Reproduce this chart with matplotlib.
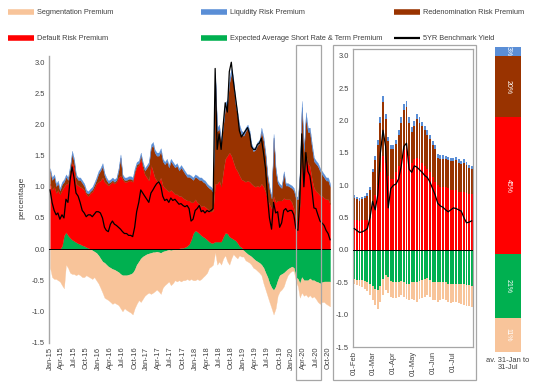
import numpy as np
import pandas as pd
import matplotlib
matplotlib.use("Agg")
import matplotlib.pyplot as plt
import matplotlib.dates as mdates
from matplotlib.lines import Line2D
from matplotlib.patches import Rectangle

plt.rcParams["font.family"] = ["Liberation Sans", "DejaVu Sans"]

C_SEG = "#F8C49A"
C_LIQ = "#5A8ED6"
C_RED = "#993300"
C_DEF = "#FF0000"
C_EXP = "#00B050"
C_TXT = "#404040"
C_FRAME = "#A6A6A6"

# ---- main panel, read on the 1st and 16th of each month, Jan-15 .. Oct-20
main_dates = pd.to_datetime(
    [f"{y}-{m:02d}-{d:02d}" for y in range(2015, 2021) for m in range(1, 13) for d in (1, 16)][:140]
)

default = [
    1.05, 0.95, 1.00, 0.90, 0.95, 0.88, 0.90, 0.78, 0.78, 0.83, 1.02, 1.25, 1.17, 0.94, 0.93, 0.92, 0.92, 0.90, 0.85, 0.83, 0.90, 0.92, 0.98, 1.05,
    1.08, 1.10, 1.15, 1.08, 1.05, 1.02, 1.05, 1.08, 1.05, 1.08, 1.15, 1.18, 1.12, 1.08, 1.08, 1.10, 1.10, 1.08, 1.22, 1.32, 1.35, 1.45, 1.30, 1.20,
    1.15, 1.10, 1.35, 1.25, 1.15, 1.10, 1.08, 1.15, 1.02, 0.98, 0.95, 0.92, 0.95, 0.92, 0.88, 0.88, 0.84, 0.83, 0.80, 0.77, 0.73, 0.70, 0.60, 0.50,
    0.50, 0.47, 0.47, 0.46, 0.50, 0.50, 0.50, 0.50, 0.50, 0.52, 0.93, 0.93, 0.98, 0.88, 1.05, 1.19, 1.25, 1.35, 1.32, 1.24, 1.16, 1.15, 1.13, 1.09,
    1.10, 1.08, 1.10, 1.08, 1.05, 1.02, 1.00, 1.02, 1.00, 1.05, 1.00, 0.92, 0.80, 0.72, 0.65, 0.85, 0.75, 0.78, 0.78, 0.78, 0.82, 0.80, 0.80, 0.80,
    0.75, 0.65, 0.46, 0.46, 0.70, 1.45, 1.10, 1.52, 1.38, 1.33, 1.12, 0.98, 0.93, 0.90, 0.86, 0.85, 0.82, 0.80, 0.80, 0.72,
]
redenom = [
    0.21, 0.16, 0.16, 0.11, 0.11, 0.06, 0.09, 0.08, 0.11, 0.06, 0.11, 0.13, 0.10, 0.11, 0.09, 0.11, 0.08, 0.06, 0.03, 0.04, 0.03, 0.04, 0.05, 0.06,
    0.13, 0.16, 0.18, 0.10, 0.06, 0.04, 0.03, 0.03, 0.03, 0.03, 0.11, 0.29, 0.04, 0.03, 0.03, 0.03, 0.03, 0.03, 0.04, 0.04, 0.03, 0.06, 0.06, 0.06,
    0.16, 0.26, 0.28, 0.42, 0.40, 0.40, 0.42, 0.42, 0.39, 0.38, 0.46, 0.39, 0.46, 0.44, 0.43, 0.46, 0.41, 0.46, 0.44, 0.41, 0.38, 0.38, 0.39, 0.36,
    0.36, 0.39, 0.39, 0.43, 0.38, 0.38, 0.36, 0.36, 0.36, 0.29, 1.73, 0.84, 0.84, 0.69, 0.74, 0.83, 0.83, 1.12, 1.32, 1.27, 1.03, 0.88, 0.76, 0.72,
    0.72, 0.81, 0.84, 0.76, 0.60, 0.55, 0.60, 0.65, 0.70, 0.84, 0.74, 0.58, 0.36, 0.24, 0.16, 0.94, 0.50, 0.28, 0.23, 0.20, 0.39, 0.22, 0.22, 0.20,
    0.23, 0.29, 0.35, 0.34, 0.50, 0.83, 0.46, 0.59, 0.50, 0.55, 0.50, 0.43, 0.44, 0.43, 0.39, 0.35, 0.33, 0.30, 0.30, 0.28,
]
liquidity = [
    0.04, 0.04, 0.04, 0.04, 0.04, 0.04, 0.04, 0.04, 0.04, 0.04, 0.04, 0.05, 0.05, 0.04, 0.04, 0.04, 0.04, 0.04, 0.04, 0.04, 0.04, 0.04, 0.04, 0.04,
    0.04, 0.04, 0.05, 0.04, 0.04, 0.04, 0.04, 0.04, 0.04, 0.04, 0.04, 0.05, 0.04, 0.04, 0.04, 0.04, 0.04, 0.04, 0.04, 0.04, 0.04, 0.04, 0.04, 0.04,
    0.04, 0.04, 0.05, 0.05, 0.05, 0.05, 0.05, 0.05, 0.04, 0.04, 0.04, 0.04, 0.04, 0.04, 0.04, 0.04, 0.04, 0.04, 0.04, 0.04, 0.04, 0.04, 0.04, 0.04,
    0.04, 0.04, 0.04, 0.04, 0.04, 0.04, 0.04, 0.04, 0.04, 0.04, 0.07, 0.06, 0.06, 0.06, 0.06, 0.07, 0.07, 0.08, 0.08, 0.08, 0.07, 0.07, 0.06, 0.06,
    0.06, 0.06, 0.06, 0.06, 0.05, 0.05, 0.05, 0.05, 0.05, 0.06, 0.06, 0.05, 0.04, 0.04, 0.04, 0.06, 0.05, 0.04, 0.04, 0.04, 0.04, 0.04, 0.04, 0.04,
    0.04, 0.04, 0.04, 0.04, 0.05, 0.10, 0.06, 0.09, 0.07, 0.07, 0.06, 0.06, 0.05, 0.05, 0.05, 0.05, 0.05, 0.05, 0.05, 0.05,
]
expected = [
    0.00, 0.00, 0.00, 0.00, 0.00, 0.00, 0.05, 0.22, 0.27, 0.22, 0.18, 0.15, 0.13, 0.11, 0.09, 0.08, 0.06, 0.05, 0.03, 0.02, 0.00, -0.02, -0.04, -0.06,
    -0.10, -0.15, -0.20, -0.22, -0.25, -0.28, -0.30, -0.32, -0.33, -0.35, -0.37, -0.40, -0.42, -0.42, -0.42, -0.41, -0.40, -0.38, -0.33, -0.25, -0.20, -0.15, -0.12, -0.10,
    -0.08, -0.07, -0.06, -0.05, -0.05, -0.04, -0.05, -0.06, -0.04, -0.03, -0.02, -0.01, -0.02, -0.01, 0.00, 0.00, 0.01, 0.02, 0.02, 0.03, 0.05, 0.08, 0.15, 0.25,
    0.30, 0.28, 0.25, 0.22, 0.20, 0.18, 0.15, 0.12, 0.10, 0.10, 0.12, 0.12, 0.12, 0.12, 0.20, 0.26, 0.25, 0.20, 0.18, 0.16, 0.14, 0.10, 0.05, 0.03,
    -0.02, -0.05, -0.08, -0.10, -0.12, -0.15, -0.18, -0.20, -0.22, -0.25, -0.30, -0.38, -0.45, -0.55, -0.62, -0.66, -0.60, -0.50, -0.42, -0.40, -0.38, -0.35, -0.32, -0.30,
    -0.28, -0.30, -0.45, -0.48, -0.55, -0.45, -0.50, -0.50, -0.50, -0.47, -0.50, -0.50, -0.52, -0.53, -0.55, -0.53, -0.52, -0.52, -0.52, -0.52,
]
segment = [
    -0.30, -0.45, -0.48, -0.48, -0.50, -0.52, -0.58, -0.63, -0.25, -0.30, -0.38, -0.40, -0.40, -0.42, -0.40, -0.42, -0.45, -0.45, -0.42, -0.44, -0.46, -0.46, -0.41, -0.44,
    -0.45, -0.47, -0.50, -0.56, -0.55, -0.54, -0.55, -0.56, -0.53, -0.53, -0.53, -0.55, -0.58, -0.53, -0.56, -0.59, -0.62, -0.67, -0.62, -0.63, -0.62, -0.70, -0.68, -0.65,
    -0.64, -0.63, -0.66, -0.65, -0.63, -0.61, -0.63, -0.66, -0.58, -0.55, -0.53, -0.51, -0.56, -0.54, -0.50, -0.52, -0.50, -0.52, -0.50, -0.50, -0.48, -0.50, -0.48, -0.50,
    -0.50, -0.48, -0.50, -0.48, -0.45, -0.42, -0.38, -0.30, -0.28, -0.25, -0.05, -0.25, -0.20, -0.25, -0.15, -0.10, -0.20, -0.25, -0.15, -0.08, -0.12, -0.15, -0.10, -0.12,
    -0.10, -0.13, -0.12, -0.12, -0.13, -0.15, -0.14, -0.15, -0.16, -0.17, -0.25, -0.27, -0.30, -0.30, -0.33, -0.39, -0.35, -0.25, -0.26, -0.25, -0.22, -0.15, -0.10, -0.08,
    -0.07, -0.05, -0.07, -0.12, -0.23, -0.25, -0.25, -0.23, -0.27, -0.27, -0.28, -0.26, -0.28, -0.32, -0.33, -0.32, -0.33, -0.36, -0.38, -0.40,
]
yield_5y = [
    0.95, 0.75, 0.62, 0.55, 0.58, 0.48, 0.55, 0.50, 0.80, 0.75, 1.10, 1.32, 1.15, 0.90, 0.85, 0.75, 0.62, 0.58, 0.52, 0.55, 0.55, 0.52, 0.56, 0.60,
    0.60, 0.58, 0.50, 0.35, 0.30, 0.28, 0.40, 0.45, 0.40, 0.38, 0.35, 0.32, 0.28, 0.25, 0.25, 0.22, 0.22, 0.20, 0.35, 0.60, 0.75, 0.95, 0.90, 0.85,
    0.80, 0.75, 0.90, 0.95, 1.00, 1.05, 1.08, 1.02, 0.85, 0.78, 0.80, 0.75, 0.82, 0.78, 0.80, 0.76, 0.72, 0.73, 0.70, 0.68, 0.70, 0.65, 0.45, 0.48,
    0.62, 0.65, 0.70, 0.60, 0.62, 0.58, 0.62, 0.60, 0.62, 0.65, 2.90, 1.60, 1.85, 1.60, 2.00, 2.35, 2.20, 2.85, 3.00, 2.70, 2.45, 2.20, 1.90, 1.80,
    1.85, 1.90, 1.95, 1.85, 1.65, 1.60, 1.60, 1.68, 1.70, 1.78, 1.55, 1.30, 0.85, 0.50, 0.32, 0.75, 0.58, 0.60, 0.35, 0.42, 0.62, 0.65, 0.60, 0.62,
    0.62, 0.55, 0.33, 0.30, 0.75, 1.85, 1.00, 1.55, 1.25, 1.18, 0.95, 0.66, 0.65, 0.55, 0.45, 0.42, 0.38, 0.30, 0.25, 0.15,
]

# ---- zoom panel, Feb-20 .. Jul-20, every 4 days
zoom_dates = pd.date_range("2020-02-01", periods=46, freq="4D")
z_default = [0.46, 0.46, 0.45, 0.46, 0.46, 0.47, 0.50, 0.70, 0.85, 1.00, 1.20, 1.45, 1.35, 1.15, 1.10,
             1.10, 1.20, 1.30, 1.40, 1.55, 1.60, 1.45, 1.35, 1.40, 1.42, 1.40, 1.35, 1.30, 1.25, 1.20, 1.12,
             1.05, 1.00, 0.98, 0.98, 0.97, 0.95, 0.93, 0.93, 0.92, 0.90, 0.90, 0.90, 0.88, 0.87, 0.86]
z_redenom = [0.35, 0.32, 0.31, 0.32, 0.34, 0.37, 0.43, 0.50, 0.54, 0.63, 0.77, 0.83, 0.67, 0.54, 0.46,
             0.46, 0.44, 0.48, 0.57, 0.61, 0.61, 0.52, 0.48, 0.52, 0.60, 0.57, 0.56, 0.55, 0.53, 0.51, 0.50,
             0.51, 0.42, 0.43, 0.43, 0.43, 0.44, 0.44, 0.44, 0.47, 0.45, 0.43, 0.45, 0.43, 0.40, 0.39]
z_liquidity = [0.04, 0.04, 0.04, 0.04, 0.04, 0.04, 0.04, 0.05, 0.06, 0.07, 0.08, 0.10, 0.08, 0.06, 0.06,
               0.06, 0.06, 0.07, 0.08, 0.09, 0.09, 0.08, 0.07, 0.08, 0.08, 0.08, 0.07, 0.07, 0.07, 0.07, 0.06,
               0.06, 0.06, 0.06, 0.06, 0.06, 0.05, 0.05, 0.05, 0.05, 0.05, 0.05, 0.05, 0.05, 0.05, 0.05]
z_expected = [-0.45, -0.46, -0.47, -0.47, -0.48, -0.50, -0.52, -0.55, -0.60, -0.62, -0.55, -0.45, -0.38, -0.42, -0.48,
              -0.50, -0.50, -0.50, -0.48, -0.50, -0.52, -0.52, -0.50, -0.50, -0.50, -0.48, -0.47, -0.45, -0.44, -0.46, -0.50,
              -0.50, -0.50, -0.50, -0.50, -0.50, -0.52, -0.53, -0.52, -0.52, -0.52, -0.53, -0.53, -0.54, -0.54, -0.55]
z_segment = [-0.07, -0.08, -0.09, -0.11, -0.12, -0.14, -0.18, -0.23, -0.25, -0.30, -0.25, -0.25, -0.24, -0.24, -0.24,
             -0.25, -0.24, -0.22, -0.22, -0.23, -0.24, -0.26, -0.26, -0.28, -0.30, -0.28, -0.27, -0.27, -0.26, -0.26, -0.28,
             -0.28, -0.30, -0.28, -0.26, -0.28, -0.28, -0.29, -0.28, -0.28, -0.30, -0.31, -0.32, -0.32, -0.33, -0.33]
z_yield = [0.33, 0.30, 0.27, 0.28, 0.30, 0.33, 0.50, 0.75, 0.62, 0.85, 1.50, 1.85, 1.60, 0.65, 0.95,
           1.00, 1.02, 1.10, 1.30, 1.60, 1.65, 1.25, 1.20, 1.30, 1.28, 1.24, 1.20, 1.15, 1.12, 1.05, 0.95,
           0.85, 0.72, 0.68, 0.66, 0.62, 0.59, 0.62, 0.65, 0.64, 0.62, 0.60, 0.50, 0.42, 0.43, 0.45]

# ---- average shares 31-Jan to 31-Jul (bottom to top)
share_names = ["Segmentation", "Expected", "Default", "Redenomination", "Liquidity"]
share_values = [11, 21, 45, 20, 3]
share_colors = [C_SEG, C_EXP, C_DEF, C_RED, C_LIQ]

W, H = 543, 388
fig = plt.figure(figsize=(W / 100, H / 100), dpi=100)


def fx(px):
    return px / W


def fy(py):
    return 1 - py / H


def style_y(ax):
    ax.set_ylim(-1.5, 3.1)
    ax.set_yticks(np.arange(-1.5, 3.01, 0.5))
    ax.yaxis.set_major_formatter(plt.FormatStrFormatter("%.1f"))
    ax.tick_params(axis="both", length=0, labelsize=5.4, colors=C_TXT, pad=3)
    ax.axhline(0, color="black", lw=0.7, zorder=5)


# ---- main panel
ax = fig.add_axes([fx(49), fy(342.5), (331 - 49) / W, (342.5 - 56) / H])
x = main_dates
exp = np.array(expected)
gpos, gneg = np.clip(exp, 0, None), np.clip(exp, None, 0)
base = np.zeros(len(x))
for vals, c in [(gpos, C_EXP), (np.array(default), C_DEF), (np.array(redenom), C_RED), (np.array(liquidity), C_LIQ)]:
    ax.fill_between(x, base, base + vals, color=c, lw=0.2, edgecolor=c)
    base = base + vals
ax.fill_between(x, gneg, 0, color=C_EXP, lw=0.2, edgecolor=C_EXP)
ax.fill_between(x, gneg + np.array(segment), gneg, color=C_SEG, lw=0.2, edgecolor=C_SEG)
ax.plot(x, yield_5y, color="black", lw=0.9, zorder=6)
style_y(ax)
ax.set_xlim(pd.Timestamp("2014-12-24"), pd.Timestamp("2020-10-23"))
ax.xaxis.set_major_locator(mdates.MonthLocator(bymonth=[1, 4, 7, 10]))
ax.xaxis.set_major_formatter(mdates.DateFormatter("%b-%y"))
plt.setp(ax.get_xticklabels(), rotation=90)
for s in ["top", "right", "bottom"]:
    ax.spines[s].set_visible(False)
ax.spines["left"].set_color(C_FRAME)
ax.spines["left"].set_linewidth(1.0)
fig.text(fx(22), fy(198), "percentage", rotation=90, ha="center", va="center", fontsize=6, color=C_TXT)

# highlight box on the main panel
fig.add_artist(Rectangle((fx(296), fy(380)), 25 / W, 335 / H, transform=fig.transFigure,
                         fill=False, edgecolor=C_FRAME, lw=0.9))

# ---- zoom panel
fig.add_artist(Rectangle((fx(333), fy(380)), 143 / W, 335 / H, transform=fig.transFigure,
                         fill=False, edgecolor=C_FRAME, lw=0.9))
ax2 = fig.add_axes([fx(353), fy(347), 120 / W, (347 - 49.4) / H])
zexp = np.array(z_expected)
zpos, zneg = np.clip(zexp, 0, None), np.clip(zexp, None, 0)
base = np.zeros(len(zoom_dates))
for vals, c in [(zpos, C_EXP), (np.array(z_default), C_DEF), (np.array(z_redenom), C_RED), (np.array(z_liquidity), C_LIQ)]:
    ax2.bar(zoom_dates, vals, bottom=base, width=2.9, color=c, lw=0)
    base = base + vals
ax2.bar(zoom_dates, zneg, width=2.9, color=C_EXP, lw=0)
ax2.bar(zoom_dates, z_segment, bottom=zneg, width=2.9, color=C_SEG, lw=0)
ax2.plot(zoom_dates, z_yield, color="black", lw=0.9, zorder=6)
style_y(ax2)
ax2.set_xlim(pd.Timestamp("2020-01-30"), pd.Timestamp("2020-08-01"))
ax2.xaxis.set_major_locator(mdates.MonthLocator(bymonth=range(2, 8)))
ax2.xaxis.set_major_formatter(mdates.DateFormatter("%d-%b"))
plt.setp(ax2.get_xticklabels(), rotation=90)
for s in ax2.spines.values():
    s.set_color(C_FRAME)
    s.set_linewidth(0.9)

# ---- average share bar
ax3 = fig.add_axes([fx(495), fy(352), 26 / W, 305 / H])
bottom = 0
for name, v, c in zip(share_names, share_values, share_colors):
    ax3.bar(0, v, bottom=bottom, width=1.0, color=c, lw=0)
    ax3.text(0, bottom + v / 2, f"{v}%", rotation=270, ha="center", va="center",
             fontsize=5, color="white")
    bottom += v
ax3.set_xlim(-0.5, 0.5)
ax3.set_ylim(0, sum(share_values))
ax3.axis("off")
fig.text(fx(508), fy(364), "av. 31-Jan to\n31-Jul", ha="center", va="center",
         fontsize=5.4, color=C_TXT, linespacing=1.1)

# ---- legend
legend_items = [
    ("Segmentation Premium", C_SEG, 8, 12, 4),
    ("Liquidity Risk Premium", C_LIQ, 201, 12, 4),
    ("Redenomination Risk Premium", C_RED, 394, 12, 4),
    ("Default Risk Premium", C_DEF, 8, 38, 4),
    ("Expected Average Short Rate & Term Premium", C_EXP, 201, 38, 4),
    ("5YR Benchmark Yield", "black", 394, 38, 1.6),
]
for label, c, x0, y0, lw in legend_items:
    fig.add_artist(Line2D([fx(x0), fx(x0 + 26)], [fy(y0), fy(y0)], transform=fig.transFigure,
                          color=c, lw=lw, solid_capstyle="butt"))
    fig.text(fx(x0 + 29), fy(y0), label, ha="left", va="center", fontsize=5.3, color=C_TXT)

fig.savefig("out.png", dpi=100)
